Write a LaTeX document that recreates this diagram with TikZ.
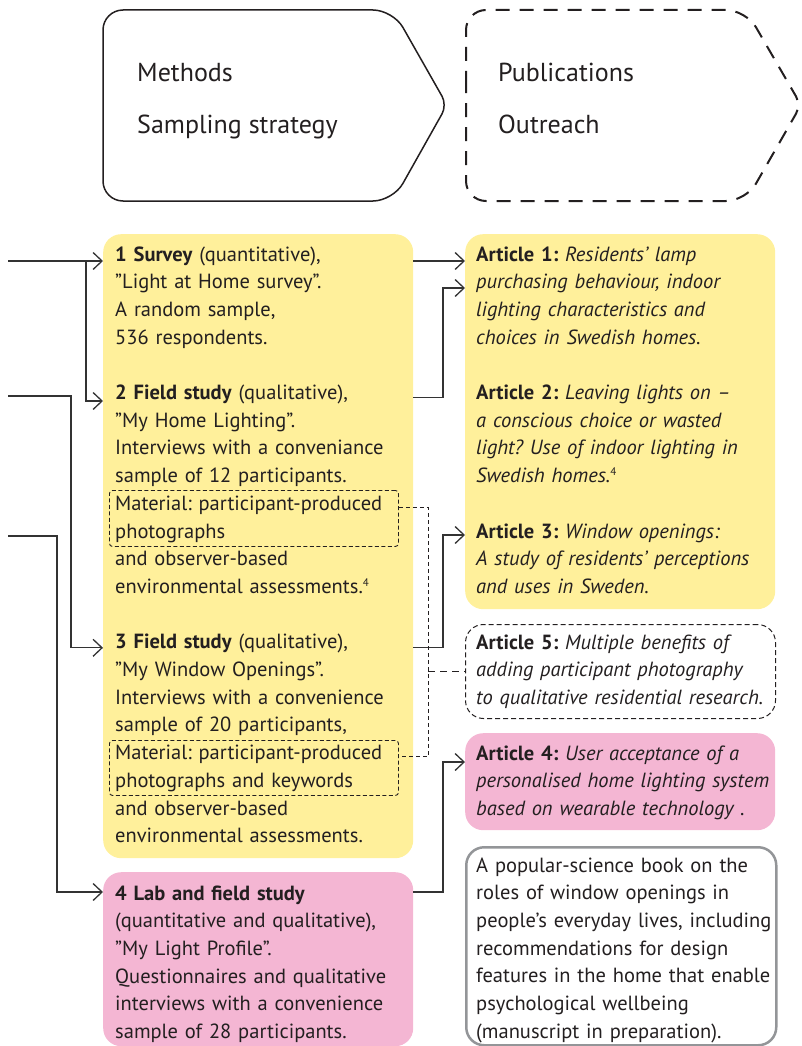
\documentclass[tikz,border=0pt]{standalone}
\usepackage{fontspec}
\setmainfont{PT Sans}
\usetikzlibrary{arrows.meta,calc}
\definecolor{ink}{HTML}{231F20}
\definecolor{wire}{HTML}{333333}
\definecolor{sun}{HTML}{FFF09B}
\definecolor{rose}{HTML}{F4B6D3}
\definecolor{frame}{HTML}{939598}
\frenchspacing
\newcommand{\fnmark}[1]{\raisebox{7pt}{\fontsize{11}{11}\selectfont\upshape #1}}
\begin{document}
\begin{tikzpicture}[x=1pt,y=-1pt,
  box/.style={anchor=north west,inner sep=0pt,rounded corners=18pt,minimum width=310pt},
  yellowbox/.style={box,fill=sun},
  pinkbox/.style={box,fill=rose},
  txt/.style={anchor=base west,inner sep=0pt,text width=300pt,align=left,text=ink,
    font=\fontsize{20.5}{27.7}\selectfont},
  head/.style={anchor=base west,inner sep=0pt,text=ink,font=\fontsize{26}{30}\selectfont},
  matbox/.style={anchor=north west,inner sep=0pt,draw=ink,line width=0.9pt,
    dash pattern=on 4pt off 2.5pt,rounded corners=3pt,minimum width=289pt},
  wireline/.style={draw=wire,line width=1.3pt},
  arr/.style={wireline,-{Straight Barb[length=9pt,width=17pt,line width=1.3pt]}},
  dwire/.style={draw=ink,line width=1pt,dash pattern=on 4pt off 3pt},
]
\useasboundingbox (0,0) rectangle (802,1046);

% header shapes
\draw[ink,line width=1.5pt,rounded corners=20pt]
  (103,105) -- (103,10) -- (393,10) [rounded corners=10pt] -- (447,105)
  [rounded corners=20pt] -- (393,201) -- (103,201) -- cycle;
\draw[ink,line width=2pt,dash pattern=on 14pt off 10pt,rounded corners=20pt]
  (466,105) -- (466,10) -- (746,10) [rounded corners=10pt] -- (801,105)
  [rounded corners=20pt] -- (746,201) -- (466,201) -- cycle;
\node[head] (meth) at (137,82) {Methods};
\node[head] (samp) at (137,133) {Sampling strategy};
\node[head] (publ) at (498,82) {Publications};
\node[head] (outr) at (498,133) {Outreach};

% method boxes
\node[yellowbox,minimum height=624pt] (mbox) at (103,234) {};
\node[pinkbox,minimum height=174pt] (lbox) at (103,872) {};
\node[matbox,minimum height=56pt] (mat1) at (109,490) {};
\node[matbox,minimum height=55pt] (mat2) at (109,740) {};

\node[txt] (s1) at (115,261) {\textbf{1 Survey} (quantitative),\\
  ”Light at Home survey”.\\ A random sample,\\ 536 respondents.};
\node[txt] (s2) at (115,399.5) {\textbf{2 Field study} (qualitative),\\
  ”My Home Lighting”.\\ Interviews with a conveniance\\ sample of 12 participants.\\
  Material: participant-produced\\ photographs\\ and observer-based\\
  environmental assessments.\fnmark{4}};
\node[txt] (s3) at (115,648.8) {\textbf{3 Field study} (qualitative),\\
  ”My Window Openings”.\\ Interviews with a convenience\\ sample of 20 participants,\\
  Material: participant-produced\\ photographs and keywords\\ and observer-based\\
  environmental assessments.};
\node[txt] (s4) at (115,900) {\textbf{4 Lab and field study}\\
  (quantitative and qualitative),\\ ”My Light Profile”.\\
  Questionnaires and qualitative\\ interviews with a convenience\\
  sample of 28 participants.};

% publication boxes
\node[yellowbox,minimum height=375pt] (abox) at (465,234) {};
\node[box,minimum height=94pt,draw=ink,line width=1pt,dash pattern=on 5pt off 3pt] (a5box) at (465,624) {};
\node[pinkbox,minimum height=97pt] (a4box) at (465,733) {};
\node[box,minimum height=198pt,draw=frame,line width=2.5pt] (bbox) at (465,846) {};

\node[txt] (a1) at (476,261) {\textbf{Article 1:} \itshape Residents’ lamp\\
  purchasing behaviour, indoor\\ lighting characteristics and\\ choices in Swedish homes.};
\node[txt] (a2) at (476,399.5) {\textbf{Article 2:} \itshape Leaving lights on –\\
  a conscious choice or wasted\\ light? Use of indoor lighting in\\ Swedish homes.\fnmark{4}};
\node[txt] (a3) at (476,538) {\textbf{Article 3:} \itshape Window openings:\\
  A study of residents’ perceptions\\ and uses in Sweden.};
\node[txt] (a5) at (476,649) {\textbf{Article 5:} \itshape Multiple benefits of\\
  adding participant photography\\ to qualitative residential research.};
\node[txt] (a4) at (476,760) {\textbf{Article 4:} \itshape User acceptance of a\\
  personalised home lighting system\\ based on wearable technology .};
\node[txt] (bk) at (476,872) {A popular-science book on the\\ roles of window openings in\\
  people’s everyday lives, including\\ recommendations for design\\
  features in the home that enable\\ psychological wellbeing\\ (manuscript in preparation).};

% incoming lines
\coordinate (in1) at (8,261);
\coordinate (in2) at (8,396);
\coordinate (in3) at (8,536);
\coordinate (j1) at (86,261);
\coordinate (k2) at (71,396);
\coordinate (k3) at (57,536);
\draw[arr] (in1) -- (in1 -| mbox.west);
\draw[arr] (j1) |- ($(mbox.west |- s2.base)+(0,1.5)$);
\draw[arr] (in2) -- (k2) |- ($(mbox.west |- s3.base)+(0,-1)$);
\draw[arr] (in3) -- (k3) |- ($(lbox.west |- s4.base)+(0,-8)$);

% outgoing lines
\coordinate (c1) at (443,0);
\draw[arr] (mbox.east |- s1.base) -- (abox.west |- s1.base);
\draw[arr] ($(mbox.east |- s2.base)+(0,-2)$) -| ($(c1 |- a1.base)+(0,27)$)
  -- ($(abox.west |- a1.base)+(0,27)$);
\draw[arr] ($(mbox.east |- s3.base)+(0,-1)$) -| ($(c1 |- a3.base)+(0,-3)$)
  -- ($(abox.west |- a3.base)+(0,-3)$);
\draw[arr] ($(lbox.east |- s4.base)+(0,-8)$) -| ($(c1 |- a4.base)+(0,2)$)
  -- ($(a4box.west |- a4.base)+(0,2)$);

% photo-material links
\coordinate (dv) at (428,0);
\draw[dwire] ([yshift=11pt]mat1.east) -- ([yshift=11pt]mat1.east -| dv)
  -- ([yshift=11pt]mat2.east -| dv) -- ([yshift=11pt]mat2.east);
\draw[dwire,dash pattern=on 7pt off 5pt] (dv |- a5box.west) -- (a5box.west);
\end{tikzpicture}
\end{document}
